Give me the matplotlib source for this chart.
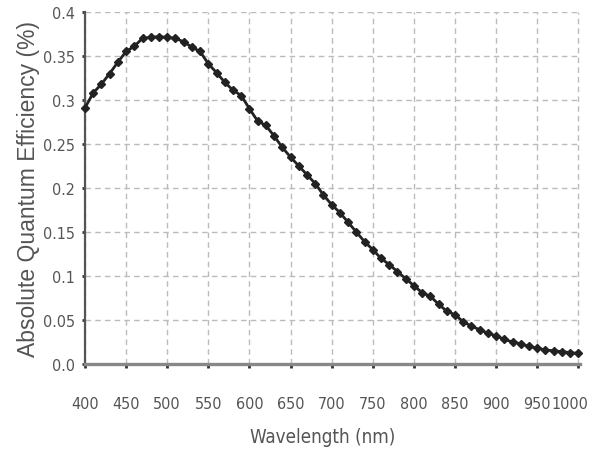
import numpy as np
import matplotlib.pyplot as plt
from matplotlib import font_manager as fm
from matplotlib.transforms import ScaledTranslation

# wavelength samples (nm) and absolute QE
wavelength = list(range(400, 1001, 10))
qe = [0.291, 0.308, 0.318, 0.330, 0.343, 0.355, 0.361, 0.370, 0.371, 0.372,
      0.371, 0.370, 0.366, 0.360, 0.355, 0.341, 0.331, 0.320, 0.311, 0.305,
      0.290, 0.276, 0.271, 0.259, 0.246, 0.235, 0.225, 0.215, 0.205, 0.192,
      0.181, 0.172, 0.161, 0.150, 0.139, 0.130, 0.120, 0.113, 0.105, 0.097,
      0.089, 0.081, 0.077, 0.068, 0.060, 0.056, 0.048, 0.043, 0.039, 0.035,
      0.032, 0.028, 0.025, 0.023, 0.020, 0.018, 0.016, 0.015, 0.014, 0.013,
      0.012]

xticks = list(range(400, 1001, 50))
yticks = [0.0, 0.05, 0.1, 0.15, 0.2, 0.25, 0.3, 0.35, 0.4]
ytick_labels = ['0.0', '0.05', '0.1', '0.15', '0.2', '0.25', '0.3', '0.35', '0.4']

# look for an upright condensed sans face, else fall back to Liberation Sans a bit smaller
narrow_path = None
for f in fm.fontManager.ttflist:
    condensed = ('Narrow' in f.name or 'Condensed' in f.name or 'condensed' in str(f.stretch))
    fn = f.fname.lower()
    if condensed and f.style == 'normal' and f.weight in (400, 'normal', 'regular') \
            and 'italic' not in fn and 'bold' not in fn and 'light' not in fn:
        narrow_path = f.fname
        if 'Sans' in f.name:
            break

if narrow_path:
    tick_fp = fm.FontProperties(fname=narrow_path, size=11.5)
    lab_fp = fm.FontProperties(fname=narrow_path, size=13.5)
else:
    tick_fp = fm.FontProperties(family=['Liberation Sans', 'DejaVu Sans'], size=11)
    lab_fp = fm.FontProperties(family=['Liberation Sans', 'DejaVu Sans'], size=13.5)

fig = plt.figure(figsize=(5.92, 4.52), dpi=100)
ax = fig.add_axes([0.1436, 0.1925, 0.836, 0.779])

ax.plot(wavelength, qe, '-', color='#222222', lw=2.0, marker='D', ms=4.5,
        mec='#222222', mfc='#222222', clip_on=False, zorder=3)

ax.set_xlim(400, 1002)
ax.set_ylim(0, 0.4)
ax.set_xticks(xticks)
ax.set_yticks(yticks)

ax.grid(True, color='#bbbbbb', lw=1.0, ls=(0, (4, 3)))
ax.set_axisbelow(True)

ax.tick_params(axis='x', direction='out', length=3, width=2, color='#333333', pad=20)
ax.tick_params(axis='y', direction='out', length=2, width=2, color='#333333', pad=5)

xl = ax.set_xticklabels([str(t) for t in xticks], fontproperties=tick_fp, color='#555555')
ax.set_yticklabels(ytick_labels, fontproperties=tick_fp, color='#555555')
# the last label sits a little left of its tick in the original
xl[-1].set_transform(xl[-1].get_transform() + ScaledTranslation(-8 / 100, 0, fig.dpi_scale_trans))

for s in ['top', 'right']:
    ax.spines[s].set_visible(False)
ax.spines['left'].set_color('#555555')
ax.spines['left'].set_linewidth(1.6)
ax.spines['bottom'].set_color('#888888')
ax.spines['bottom'].set_linewidth(2.4)

ax.set_xlabel('Wavelength (nm)', fontproperties=lab_fp, color='#555555')
ax.xaxis.set_label_coords(0.48, -0.178)
ax.set_ylabel('Absolute Quantum Efficiency (%)', family=['Liberation Sans', 'DejaVu Sans'],
              fontsize=16.5, color='#555555', labelpad=2)

fig.savefig('out.png', dpi=100)
